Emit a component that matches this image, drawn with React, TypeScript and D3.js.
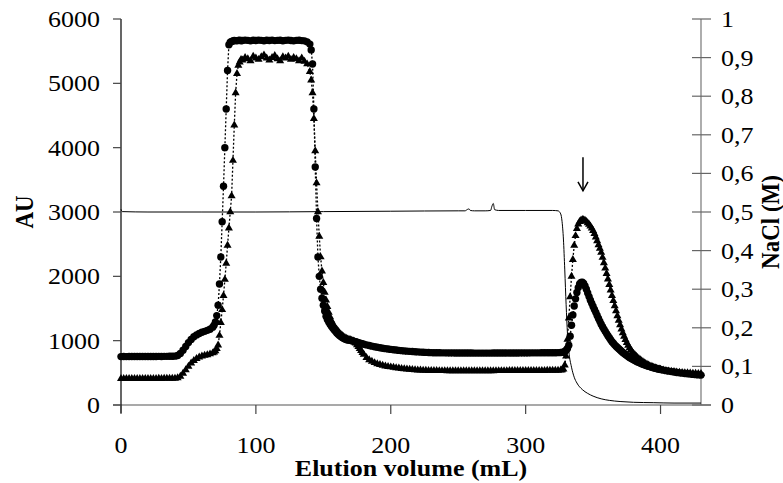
import React from "react";
import * as d3 from "d3";

// Absorbance (AU) sampled every 2 mL from 0 to 430 mL
const VOLUME_STEP = 2;
const circleAU = [
  752, 753, 752, 754, 753, 753, 754, 753, 754, 755, 754, 755, 754, 755, 756, 755, 756, 756, 757, 757, 759,
  770, 800, 850, 910, 970, 1020, 1060, 1090, 1112, 1130, 1145, 1160, 1178, 1210, 1290, 1550, 2300, 3400, 4600, 5600,
  5650, 5665, 5660, 5670, 5665, 5672, 5668, 5660, 5670, 5665, 5672, 5668, 5662, 5670, 5666, 5672, 5664, 5668, 5670, 5662,
  5668, 5672, 5665, 5660, 5668, 5670, 5664, 5660, 5645, 5610,
  5300, 3700, 2300, 1800, 1550, 1380, 1290, 1225, 1170, 1120, 1080, 1050, 1025, 1012, 1005,
  995, 982, 968, 955, 944, 934, 924, 915, 906, 898, 890, 883, 876, 870, 864, 859, 854, 849, 845, 841,
  837, 834, 831, 828, 825, 822, 820, 818, 816, 814,
  813, 812, 812, 811, 811, 810, 810, 810, 809, 809, 809, 808, 808, 808, 808, 807, 807, 807, 807, 807,
  807, 807, 808, 808, 808, 808, 808, 809, 809, 809, 809, 809, 810, 810, 810, 810, 811, 811, 811, 811,
  812, 812, 812, 812, 813, 813, 814, 815,
  822, 850, 930, 1240, 1540, 1750, 1880, 1910, 1850, 1740, 1630, 1530,
  1440, 1345, 1255, 1180, 1110, 1045, 985, 935, 893, 855, 818, 784, 753, 726, 702, 680, 660, 642, 626, 611,
  597, 584, 572, 561, 551,
  542, 534, 526, 519, 512, 506, 500, 495, 490, 485, 480, 476, 472, 468, 465,
];
const triangleAU = [
  408, 409, 408, 410, 409, 409, 410, 409, 410, 411, 410, 411, 410, 411, 412, 411, 412, 412, 413, 413, 414,
  420, 445, 490, 545, 600, 650, 690, 720, 742, 758, 770, 780, 792, 808, 840, 930, 1280, 1700, 2200, 2750,
  3250, 4350, 5150, 5330, 5360, 5400, 5380, 5350, 5420, 5390, 5370, 5410, 5440, 5390, 5360, 5400, 5430, 5380, 5350, 5410,
  5390, 5420, 5370, 5400, 5380, 5350, 5390, 5340, 5300, 5180,
  4850, 3950, 3000, 2300, 1900, 1630, 1440, 1310, 1230, 1170, 1120, 1080, 1048, 1025, 1012,
  995, 960, 905, 845, 785, 735, 702, 676, 656, 640, 627, 615, 605, 597, 590, 583, 577, 571, 566, 561,
  557, 553, 549, 546, 543, 541, 539, 537, 535, 534,
  533, 533, 532, 532, 532, 531, 531, 531, 531, 530, 530, 530, 530, 530, 530, 530, 530, 531, 531, 531,
  531, 531, 531, 532, 532, 532, 532, 532, 533, 533, 533, 533, 533, 533, 534, 534, 534, 534, 535, 535,
  535, 535, 536, 536, 536, 537, 538, 540,
  555, 760, 1350, 2000, 2480, 2740, 2850, 2880, 2870, 2830, 2780, 2710,
  2610, 2490, 2370, 2210, 2040, 1870, 1700, 1540, 1385, 1245, 1120, 1015, 925, 855, 800, 757, 718, 684, 655, 630,
  609, 591, 576, 563, 552,
  543, 535, 528, 522, 517, 512, 508, 504, 501, 498, 495, 493, 491, 489, 487,
];

// Extra readings at odd volumes where the traces change quickly
const denseVolume = [
  69, 71, 73, 75, 77, 79, 81, 83, 85, 87, 89,
  141, 143, 145, 147, 149, 151, 153, 155, 157, 159, 161, 163, 165, 167, 169, 171, 173, 175, 177, 179,
  327, 329, 331, 333, 335, 337, 339, 341, 343, 345, 347, 349, 351, 353, 355, 357, 359, 361, 363, 365, 367,
  369, 371, 373, 375, 377, 379, 381, 383, 385, 387, 389, 391, 393, 395, 397, 399,
];
const circleDenseAU = [
  1240, 1390, 1880, 2850, 4000, 5200, 5640, 5658, 5664, 5667, 5662,
  5520, 4600, 2900, 2000, 1660, 1460, 1330, 1255, 1195, 1145, 1100, 1065, 1037, 1018, 1008, 1000, 988, 975, 961, 950,
  818, 832, 880, 1070, 1400, 1650, 1825, 1905, 1890, 1800, 1685, 1580, 1485, 1392, 1300, 1217, 1145, 1077, 1015,
  960, 914, 874, 836, 801, 768, 739, 714, 691, 670, 651, 634, 618, 604, 590, 578, 566, 556,
];
const triangleDenseAU = [
  820, 875, 1080, 1480, 1950, 2480, 3000, 3800, 4850, 5280, 5370,
  5050, 4450, 3450, 2620, 2080, 1750, 1530, 1370, 1265, 1198, 1143, 1098, 1063, 1035, 1018, 1004, 980, 935, 875, 815,
  545, 620, 1020, 1680, 2260, 2630, 2810, 2870, 2878, 2852, 2807, 2747, 2662, 2552, 2432, 2292, 2125, 1955, 1785,
  1620, 1462, 1313, 1180, 1065, 968, 888, 826, 778, 737, 700, 669, 642, 619, 600, 583, 569, 557,
];

// NaCl gradient (M)
const naclVolume = [
  0, 1, 20, 60, 100, 150, 200, 250, 255, 257, 258, 259, 262, 270, 274, 275, 276, 277, 280, 300, 320, 324,
  326, 327, 328, 329, 330, 331, 332, 334, 336, 338, 342, 346, 350, 356, 362, 370, 380, 395, 410, 430,
];
const naclMolar = [
  0.507, 0.501, 0.5, 0.5, 0.5, 0.501, 0.502, 0.503, 0.503, 0.507, 0.508, 0.504, 0.503, 0.503, 0.504, 0.515,
  0.522, 0.506, 0.504, 0.504, 0.504, 0.503,
  0.495, 0.475, 0.43, 0.35, 0.26, 0.185, 0.14, 0.098, 0.072, 0.057, 0.04, 0.03, 0.023, 0.016, 0.012, 0.009,
  0.007, 0.006, 0.005, 0.005,
];

const xTicks = [0, 100, 200, 300, 400];
const auTicks = [0, 1000, 2000, 3000, 4000, 5000, 6000];
const naclTicks = [0, 0.1, 0.2, 0.3, 0.4, 0.5, 0.6, 0.7, 0.8, 0.9, 1];
const arrowVolume = 342.5;

const FONT = '"Liberation Serif", "Times New Roman", serif';
const FS = 23;
const SX = 1.13;

function merge(grid: number[], dense: number[]): [number, number][] {
  const pts: [number, number][] = grid.map((v, i) => [i * VOLUME_STEP, v]);
  dense.forEach((v, i) => pts.push([denseVolume[i], v]));
  return pts.sort((a, b) => a[0] - b[0]);
}

export default function App() {
  const W = 783;
  const H = 483;
  const x = d3.scaleLinear().domain([0, 430]).range([121, 701]);
  const yL = d3.scaleLinear().domain([0, 6000]).range([405, 19]);
  const yR = d3.scaleLinear().domain([0, 1]).range([405, 19]);

  const circlePts = merge(circleAU, circleDenseAU).map((d) => [x(d[0]), yL(d[1])] as [number, number]);
  const trianglePts = merge(triangleAU, triangleDenseAU).map((d) => [x(d[0]), yL(d[1])] as [number, number]);
  const naclPts = naclMolar.map((v, i) => [x(naclVolume[i]), yR(v)] as [number, number]);

  const line = d3.line();
  const smooth = d3.line().curve(d3.curveMonotoneX);
  const tri = d3.symbol().type(d3.symbolTriangle).size(28)();

  const ax = x(arrowVolume);

  const txt = (
    key: string,
    tx: number,
    ty: number,
    s: string,
    anchor: string,
    opts: { bold?: boolean; rotate?: boolean; dy?: string } = {}
  ) => (
    <text
      key={key}
      transform={`translate(${tx},${ty}) scale(${SX},1)${opts.rotate ? " rotate(-90)" : ""}`}
      textAnchor={anchor}
      dy={opts.dy}
      fontFamily={FONT}
      fontSize={FS}
      fontWeight={opts.bold ? "bold" : "normal"}
      fill="#000"
    >
      {s}
    </text>
  );

  return (
    <svg
      width={W}
      height={H}
      style={{ position: "absolute", left: 0, top: 0, display: "block", background: "#fff" }}
    >
      {/* axes */}
      <line x1={113} x2={711} y1={405} y2={405} stroke="#555" strokeWidth={1.2} />
      <line x1={121} x2={121} y1={19} y2={413} stroke="#000" strokeWidth={1.2} />
      {auTicks.map((t) => (
        <line key={"lt" + t} x1={113} x2={121} y1={yL(t)} y2={yL(t)} stroke="#444" strokeWidth={1.2} />
      ))}
      {auTicks.map((t) => txt("ll" + t, 100, yL(t), String(t), "end", { dy: "0.35em" }))}
      <line x1={701} x2={701} y1={19} y2={405} stroke="#777" strokeWidth={1.2} />
      {naclTicks.map((t) => (
        <line key={"rt" + t} x1={692} x2={711} y1={yR(t)} y2={yR(t)} stroke="#666" strokeWidth={1.2} />
      ))}
      {naclTicks.map((t) =>
        txt("rl" + t, 721, yR(t), t === 0 || t === 1 ? String(t) : d3.format(".1f")(t).replace(".", ","), "start", {
          dy: "0.35em",
        })
      )}
      {xTicks.map((t) => (
        <line key={"xt" + t} x1={x(t)} x2={x(t)} y1={405} y2={414} stroke="#444" strokeWidth={1.2} />
      ))}
      {xTicks.map((t) => txt("xl" + t, x(t), 453, String(t), "middle"))}

      {txt("xt", 411, 476, "Elution volume (mL)", "middle", { bold: true })}
      {txt("yl", 33, 212, "AU", "middle", { bold: true, rotate: true })}
      {txt("yr", 779, 222, "NaCl (M)", "middle", { bold: true, rotate: true })}

      {/* NaCl gradient */}
      <path d={smooth(naclPts) || ""} fill="none" stroke="#000" strokeWidth={1} />

      {/* circle series */}
      <path d={line(circlePts) || ""} fill="none" stroke="#000" strokeWidth={1.3} strokeDasharray="2,2" />
      {circlePts.map((p, i) => (
        <circle key={"c" + i} cx={p[0]} cy={p[1]} r={3.7} fill="#000" />
      ))}

      {/* triangle series */}
      <path d={line(trianglePts) || ""} fill="none" stroke="#000" strokeWidth={1.3} strokeDasharray="2,2" />
      {trianglePts.map((p, i) => (
        <path key={"t" + i} d={tri || ""} transform={`translate(${p[0]},${p[1]})`} fill="#000" />
      ))}

      {/* arrow */}
      <line x1={ax} x2={ax} y1={yL(3850)} y2={yL(3330)} stroke="#000" strokeWidth={1.5} />
      <path
        d={`M${ax - 5},${yL(3330) - 9} L${ax},${yL(3330)} L${ax + 5},${yL(3330) - 9}`}
        fill="none"
        stroke="#000"
        strokeWidth={1.5}
      />
    </svg>
  );
}
